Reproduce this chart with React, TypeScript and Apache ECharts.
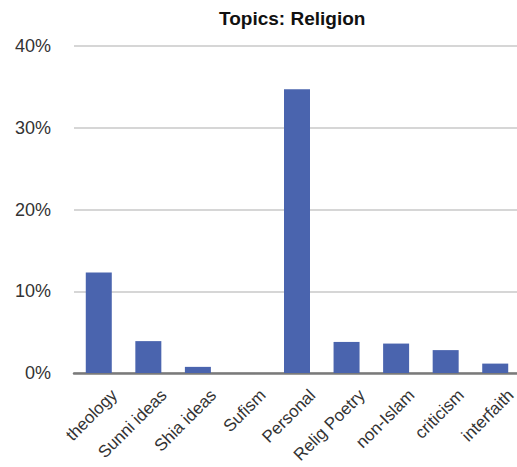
import React, { useEffect, useRef } from "react";
import * as echarts from "echarts";

// Share of posts per religion topic, in percent
const topics = [
  "theology",
  "Sunni ideas",
  "Shia ideas",
  "Sufism",
  "Personal",
  "Relig Poetry",
  "non-Islam",
  "criticism",
  "interfaith",
];
const shares = [12.3, 3.9, 0.75, 0, 34.7, 3.8, 3.6, 2.8, 1.15];
const percentTicks = [0, 10, 20, 30, 40];

const FONT = "'Liberation Sans', Arial, Helvetica, sans-serif";

export default function App() {
  const ref = useRef<HTMLDivElement>(null);

  useEffect(() => {
    if (!ref.current) return;
    const chart = echarts.init(ref.current, undefined, { renderer: "svg" });
    chart.setOption({
      animation: false,
      backgroundColor: "#ffffff",
      title: {
        text: "Topics: Religion",
        left: 214,
        top: 4,
        textStyle: {
          fontFamily: FONT,
          fontSize: 19,
          fontWeight: "bold",
          color: "#111",
        },
      },
      grid: {
        left: 74,
        right: -3,
        top: 46,
        bottom: 94,
        containLabel: false,
        outerBoundsMode: "none",
      },
      xAxis: {
        type: "category",
        data: topics,
        axisTick: { show: false },
        axisLine: { show: true, lineStyle: { color: "#7a7a7a", width: 2.5 } },
        axisLabel: {
          interval: 0,
          rotate: 45,
          margin: 35,
          padding: [0, -22, 0, 0],
          fontFamily: FONT,
          fontSize: 17,
          color: "#333",
        },
      },
      yAxis: {
        type: "value",
        min: percentTicks[0],
        max: percentTicks[percentTicks.length - 1],
        interval: 10,
        axisLine: { show: false },
        axisTick: { show: false },
        splitLine: { lineStyle: { color: "#c8c8c8", width: 1.5 } },
        axisLabel: {
          formatter: "{value}%",
          margin: 23,
          fontFamily: FONT,
          fontSize: 18,
          color: "#333",
        },
      },
      series: [
        {
          type: "bar",
          data: shares,
          barWidth: 26,
          itemStyle: { color: "#4a64ae" },
        },
      ],
    });
    return () => chart.dispose();
  }, []);

  return (
    <div
      ref={ref}
      style={{ position: "absolute", left: 0, top: 0, width: 517, height: 467 }}
    />
  );
}
